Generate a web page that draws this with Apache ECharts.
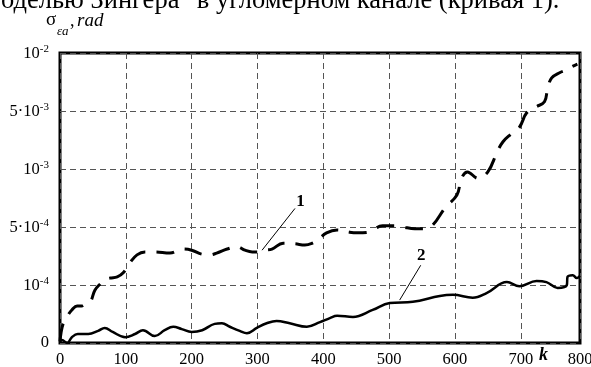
<!DOCTYPE html>
<html>
<head>
<meta charset="utf-8">
<script src="https://cdn.jsdelivr.net/npm/echarts@6/dist/echarts.min.js"></script>
<style>
  html, body { margin: 0; padding: 0; background: #fff; }
  #chart { width: 591px; height: 367px; }
</style>
</head>
<body>
<div id="chart"></div>
<script>
// y axis is piecewise: equal steps between these values
const yBreaks = [0, 1e-4, 5e-4, 1e-3, 5e-3, 1e-2]
const yTickLabels = ['0', '{b|10}{s|-4}', '{b|5·10}{s|-4}', '{b|10}{s|-3}', '{b|5·10}{s|-3}', '{b|10}{s|-2}']

// x axis: last step is drawn short, the frame ends at ~790 labelled 800
const xMax = 790
const xLastLabel = '800'

// curve 1 (dashed)
const k1 = [0, 1.5, 5, 12, 18, 26, 33, 40, 46, 53, 61, 68, 76, 87, 96, 106, 117, 129, 144, 167, 187, 200, 216, 228, 238, 254, 269, 281, 292, 301, 311, 322, 339, 357, 372, 383, 392, 405, 421, 440, 452, 468, 490, 509, 521, 539, 554, 566, 585, 603, 610, 619, 635, 650, 664, 673, 685, 698, 709, 723, 736, 741, 747, 759, 770, 777, 786]
const s1 = [0.3e-5, 1.7e-5, 3.4e-5, 4.8e-5, 5.7e-5, 6.4e-5, 6.4e-5, 6.9e-5, 7.1e-5, 9.1e-5, 1.07e-4, 1.36e-4, 1.48e-4, 1.56e-4, 1.84e-4, 2.52e-4, 3.08e-4, 3.28e-4, 3.28e-4, 3.2e-4, 3.48e-4, 3.4e-4, 3.12e-4, 3.08e-4, 3.2e-4, 3.48e-4, 3.64e-4, 3.4e-4, 3.28e-4, 3.28e-4, 3.4e-4, 3.48e-4, 3.88e-4, 3.84e-4, 3.76e-4, 3.88e-4, 4.12e-4, 4.6e-4, 4.8e-4, 4.64e-4, 4.6e-4, 4.64e-4, 5.1e-4, 5.1e-4, 5.0e-4, 4.88e-4, 4.88e-4, 5.15e-4, 6.65e-4, 7.75e-4, 9.2e-4, 9.75e-4, 9.2e-4, 9.75e-4, 2.16e-3, 2.88e-3, 3.4e-3, 3.88e-3, 4.88e-3, 5.35e-3, 5.8e-3, 7.0e-3, 7.85e-3, 8.3e-3, 8.55e-3, 8.8e-3, 9.05e-3]

// curve 2 (solid)
const k2 = [0, 3, 11, 18, 27, 43, 58, 68, 80, 99, 114, 126, 144, 159, 172, 185, 200, 216, 235, 246, 258, 273, 284, 299, 314, 329, 349, 375, 395, 410, 421, 445, 475, 501, 536, 577, 597, 627, 648, 679, 698, 724, 739, 756, 770, 771, 779, 785, 790]
const s2 = [0.2e-5, 0.5e-5, 0, 1.0e-5, 1.55e-5, 1.55e-5, 2.1e-5, 2.6e-5, 1.9e-5, 1.0e-5, 1.55e-5, 2.2e-5, 1.2e-5, 2.2e-5, 2.8e-5, 2.4e-5, 1.9e-5, 2.2e-5, 3.3e-5, 3.4e-5, 2.8e-5, 2.1e-5, 1.7e-5, 2.6e-5, 3.4e-5, 3.8e-5, 3.4e-5, 2.8e-5, 3.6e-5, 4.3e-5, 4.7e-5, 4.5e-5, 5.7e-5, 6.9e-5, 7.1e-5, 8.1e-5, 8.3e-5, 7.8e-5, 8.6e-5, 1.2e-4, 0.98e-4, 1.28e-4, 1.2e-4, 0.95e-4, 1.0e-4, 1.56e-4, 1.68e-4, 1.48e-4, 1.64e-4]

// leader lines for the curve numbers: [k, value] from label to curve
const lead1 = [[357, 6.6e-4], [307, 3.4e-4]]
const lead2 = [[548, 2.36e-4], [516, 7.4e-5]]

const serif = '"Liberation Serif", "DejaVu Serif", serif'

// value -> position on the piecewise axis
const toLevel = (v) => {
  for (let i = 0; i < yBreaks.length - 1; i++) {
    if (v <= yBreaks[i + 1]) return i + (v - yBreaks[i]) / (yBreaks[i + 1] - yBreaks[i])
  }
  return yBreaks.length - 1
}
const pts = (ks, vs) => ks.map((k, i) => [k, toLevel(vs[i])])
const leader = (pair, text, dist) => ({
  symbol: 'none',
  silent: true,
  animation: false,
  lineStyle: {color: '#000', width: 1, type: 'solid'},
  label: {show: true, position: 'start', formatter: text, distance: dist,
    fontFamily: serif, fontWeight: 'bold', fontSize: 17, color: '#000'},
  data: [[{coord: [pair[0][0], toLevel(pair[0][1])]}, {coord: [pair[1][0], toLevel(pair[1][1])]}]],
})
const txt = (text, left, top, font) => ({type: 'text', left, top, style: {text, font: font + ' ' + serif, fill: '#000'}})

const chart = echarts.init(document.getElementById('chart'), null, {renderer: 'canvas'})
chart.setOption({
  backgroundColor: '#fff',
  animation: false,
  grid: {left: 60, right: 11, top: 53, bottom: 24, show: true, borderColor: '#000', borderWidth: 3,
    outerBoundsMode: 'none', containLabel: false},
  graphic: [
    txt('оделью Зингера" в угломерном канале (кривая 1).', 1, -12, '26.5px'),
    // axis title: sigma with subscript, ", rad"
    txt('σ', 46, 11, '19px'),
    txt('εa', 57, 25, 'italic 13px'),
    txt(',', 70, 12, '18px'),
    txt('rad', 77, 11, 'italic 19px'),
  ],
  xAxis: {
    type: 'value', min: 0, max: xMax, interval: 100,
    name: 'k', nameLocation: 'end', nameGap: -42,
    nameTextStyle: {fontFamily: serif, fontSize: 18, fontWeight: 'bold', fontStyle: 'italic', color: '#000',
      verticalAlign: 'top', padding: [3, 0, 0, 0]},
    axisLine: {show: false},
    axisTick: {show: false},
    axisLabel: {fontFamily: serif, fontSize: 16.5, color: '#000', margin: 8, showMaxLabel: true,
      formatter: (v) => (v === xMax ? xLastLabel : String(v))},
    splitLine: {show: true, lineStyle: {color: '#555', width: 1, type: [6, 4]}},
  },
  yAxis: {
    type: 'value', min: 0, max: yBreaks.length - 1, interval: 1,
    axisLine: {show: false},
    axisTick: {show: false},
    axisLabel: {
      margin: 11, color: '#000',
      fontFamily: serif, fontSize: 16.5,
      formatter: (v) => yTickLabels[v],
      rich: {
        b: {fontFamily: serif, fontSize: 16.5, lineHeight: 19, verticalAlign: 'bottom'},
        s: {fontFamily: serif, fontSize: 11, lineHeight: 11, verticalAlign: 'top'},
      },
    },
    splitLine: {show: true, lineStyle: {color: '#555', width: 1, type: [6, 4]}},
  },
  series: [
    {
      type: 'line', data: pts(k1, s1), smooth: 0.4, showSymbol: false, symbol: 'none',
      lineStyle: {color: '#000', width: 3, type: [18, 11]},
      markLine: leader(lead1, '1', 9),
    },
    {
      type: 'line', data: pts(k2, s2), smooth: 0.4, showSymbol: false, symbol: 'none',
      lineStyle: {color: '#000', width: 2.5},
      markLine: leader(lead2, '2', 1),
    },
  ],
})
</script>
</body>
</html>
